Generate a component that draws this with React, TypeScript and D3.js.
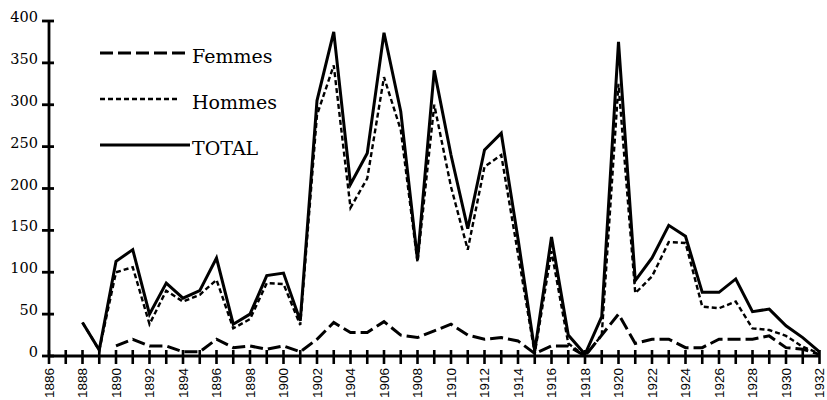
import React from "react";
import * as d3 from "d3";

const years: number[] = d3.range(1888, 1933);
const total: (number | null)[] = [
  40, 7, 113, 127, 50, 87, 69, 78, 117, 38, 50, 96, 99, 42, 305, 387, 205, 242, 386, 292,
  115, 341, 240, 152, 246, 266, 140, 6, 142, 25, 2, 47, 375, 90, 117, 156, 143, 76, 76, 92,
  53, 56, 36, 22, 5,
];
const hommes: (number | null)[] = [
  40, 7, 100, 106, 38, 78, 65, 73, 91, 33, 44, 87, 86, 37, 288, 347, 177, 212, 333, 270,
  112, 300, 202, 127, 226, 240, 122, 3, 125, 15, 0, 25, 325, 75, 95, 136, 135, 59, 57, 65,
  33, 31, 24, 11, 3,
];
const femmes: (number | null)[] = [
  null, null, 12, 20, 12, 12, 5, 5, 20, 10, 12, 8, 12, 5, 20, 40, 28, 28, 41, 25,
  22, 30, 38, 25, 20, 22, 18, 3, 12, 12, 0, 25, 50, 15, 20, 20, 10, 10, 20, 20,
  20, 24, 10, 8, 2,
];
const yTicks: number[] = [0, 50, 100, 150, 200, 250, 300, 350, 400];
const xTickYears: number[] = d3.range(1886, 1933);
const xLabelYears: number[] = d3.range(1886, 1933, 2);
const legendItems = [
  { name: "Femmes", dash: "13,5", width: 3, len: 88 },
  { name: "Hommes", dash: "5,3", width: 2.4, len: 80 },
  { name: "TOTAL", dash: "", width: 3, len: 90 },
];

export default function App() {
  const W = 827, H = 400;
  const x = d3.scaleLinear().domain([1886, 1932]).range([49, 819.5]);
  const y = d3.scaleLinear().domain([0, 400]).range([356, 21]);
  const mk = (vals: (number | null)[]) =>
    d3
      .line<number>()
      .defined((_, i) => vals[i] !== null)
      .x((d) => x(d))
      .y((_, i) => y(vals[i] as number))(years) || "";
  const series = [
    { vals: femmes, dash: "13,5", width: 3 },
    { vals: hommes, dash: "5,3", width: 2.4 },
    { vals: total, dash: "", width: 3 },
  ];
  return (
    <svg
      width={W}
      height={H}
      style={{ position: "absolute", left: 0, top: 0, background: "#fff" }}
    >
      <rect width={W} height={H} fill="#fff" />
      {/* y axis */}
      <line x1={x(1886)} x2={x(1886)} y1={y(400)} y2={y(0)} stroke="#000" strokeWidth={2.8} />
      {yTicks.map((t) => (
        <g key={t}>
          <line x1={x(1886) - 7} x2={x(1886) + 5} y1={y(t)} y2={y(t)} stroke="#000" strokeWidth={2.8} />
          <text
            x={38}
            y={y(t) - 3}
            textAnchor="end"
            dominantBaseline="middle"
            fontFamily="DejaVu Serif"
            fontSize={14.5}
            fill="#000"
          >
            {t}
          </text>
        </g>
      ))}
      {/* x axis */}
      <line x1={x(1886)} x2={x(1932)} y1={y(0)} y2={y(0)} stroke="#000" strokeWidth={3.2} />
      {xTickYears.map((yr) => (
        <line key={yr} x1={x(yr)} x2={x(yr)} y1={y(0) - 6} y2={y(0) + 8} stroke="#000" strokeWidth={2.6} />
      ))}
      {xLabelYears.map((yr) => (
        <text
          key={yr}
          transform={`translate(${x(yr)},368) rotate(-90)`}
          textAnchor="end"
          dy="0.36em"
          fontFamily="Liberation Sans"
          fontSize={13.5}
          fill="#000"
        >
          {yr}
        </text>
      ))}
      {/* series */}
      {series.map((s, i) => (
        <path
          key={i}
          d={mk(s.vals)}
          fill="none"
          stroke="#000"
          strokeWidth={s.width}
          strokeDasharray={s.dash || undefined}
          strokeLinejoin="miter"
        />
      ))}
      {/* legend */}
      {legendItems.map((it, i) => {
        const ly = [53, 99, 145][i];
        return (
          <g key={it.name}>
            <line
              x1={100}
              x2={100 + it.len}
              y1={ly}
              y2={ly}
              stroke="#000"
              strokeWidth={it.width}
              strokeDasharray={it.dash || undefined}
            />
            <text x={192} y={ly + 10} fontFamily="DejaVu Serif" fontSize={19} fill="#000">
              {it.name}
            </text>
          </g>
        );
      })}
    </svg>
  );
}
